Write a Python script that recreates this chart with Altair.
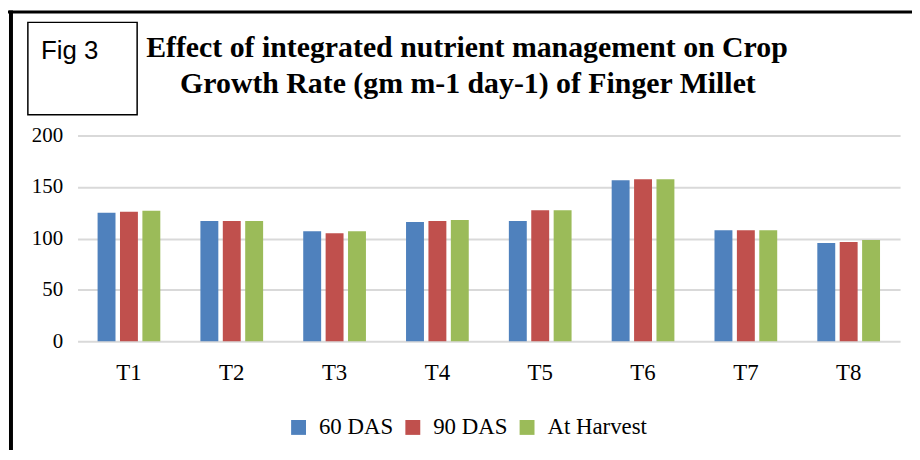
import altair as alt
import pandas as pd

treatments = ["T1", "T2", "T3", "T4", "T5", "T6", "T7", "T8"]
series = ["60 DAS", "90 DAS", "At Harvest"]
das60 = [125, 117, 107, 116, 117, 156.5, 108, 95.5]
das90 = [126, 117, 105, 117, 127.5, 157.5, 108, 96.5]
harvest = [127, 117, 107, 118, 127.5, 157.5, 108, 98.5]
colors = ["#4f81bd", "#c0504d", "#9bbb59"]
title_lines = ["Effect of integrated nutrient management on Crop",
               "Growth Rate (gm m-1 day-1) of Finger Millet"]
fig_label = "Fig 3"

rows = []
for name, vals in zip(series, [das60, das90, harvest]):
    for t, v in zip(treatments, vals):
        rows.append({"Treatment": t, "Series": name, "Value": v})
df = pd.DataFrame(rows)

serif = "Liberation Serif"

bars = alt.Chart(df).mark_bar().encode(
    x=alt.X("Treatment:N", sort=treatments,
            scale=alt.Scale(paddingInner=0.39, paddingOuter=0.195),
            axis=alt.Axis(title=None, labelAngle=0, ticks=False, tickSize=0, domain=False,
                          labelFont=serif, labelFontSize=23, labelColor="#000",
                          labelBaseline="alphabetic", labelPadding=38, grid=False)),
    xOffset=alt.XOffset("Series:N", sort=series,
                        scale=alt.Scale(paddingInner=0.2, paddingOuter=0)),
    y=alt.Y("Value:Q", scale=alt.Scale(domain=[0, 200]),
            axis=alt.Axis(title=None, values=[0, 50, 100, 150, 200], ticks=False, tickSize=0,
                          domain=False, gridColor="#d9d9d9", gridWidth=2,
                          labelFont=serif, labelFontSize=21, labelColor="#000",
                          labelPadding=15)),
    color=alt.Color("Series:N", sort=series,
                    scale=alt.Scale(domain=series, range=colors),
                    legend=alt.Legend(title=None, orient="none", direction="horizontal",
                                      legendX=211, legendY=282, symbolType="square",
                                      symbolSize=225, symbolStrokeWidth=0,
                                      labelFont=serif, labelFontSize=23, labelColor="#000",
                                      labelOffset=9, columnPadding=8, padding=0)),
)

one = pd.DataFrame({"a": [0]})
base = alt.Chart(one)

top_line = base.mark_rule(color="#000", strokeWidth=3).encode(
    x=alt.value(-70), x2=alt.value(842), y=alt.value(-124.5))
left_line = base.mark_rule(color="#000", strokeWidth=4).encode(
    x=alt.value(-67), y=alt.value(-126), y2=alt.value(320))
fig_box = base.mark_rect(fill="white", stroke="#000", strokeWidth=1.5).encode(
    x=alt.value(-50), x2=alt.value(60), y=alt.value(-114), y2=alt.value(-21))
fig_text = base.mark_text(font="Liberation Sans Narrow, Liberation Sans", fontSize=26,
                          align="center", baseline="alphabetic", color="#000").encode(
    x=alt.value(-8), y=alt.value(-77), text=alt.value(fig_label))
t1 = base.mark_text(font=serif, fontSize=30, fontWeight="bold", align="center",
                    baseline="alphabetic", color="#000").encode(
    x=alt.value(392), y=alt.value(-79), text=alt.value(title_lines[0]))
t2 = base.mark_text(font=serif, fontSize=30, fontWeight="bold", align="center",
                    baseline="alphabetic", color="#000").encode(
    x=alt.value(393), y=alt.value(-43), text=alt.value(title_lines[1]))

chart = alt.layer(bars, top_line, left_line, fig_box, fig_text, t1, t2).properties(
    width=828, height=207,
    background="white",
    autosize=alt.AutoSizeParams(type="none"),
    padding={"left": 70, "top": 127, "right": 12, "bottom": 108},
).configure_view(strokeWidth=0, stroke="transparent").configure_legend(
    labelFont=serif, labelFontSize=23, labelColor="#000")

chart.save("out.html", embed_options={"renderer": "svg", "actions": False})
